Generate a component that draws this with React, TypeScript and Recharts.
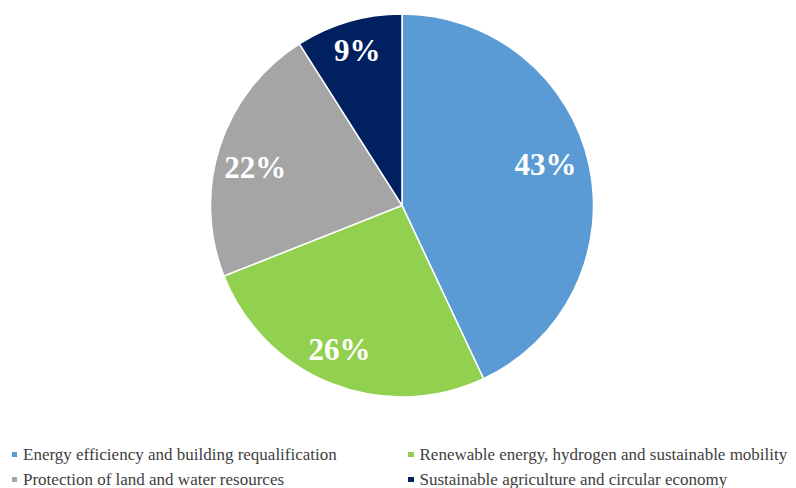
import React from 'react';
import { PieChart, Pie, Cell, Legend } from 'recharts';

const categories = [
  'Energy efficiency and building requalification',
  'Renewable energy, hydrogen and sustainable mobility',
  'Protection of land and water resources',
  'Sustainable agriculture and circular economy',
];
const shares = [43, 26, 22, 9];
const colors = ['#5B9BD5', '#92D050', '#A5A5A5', '#002060'];

const data = categories.map((name, i) => ({ name, value: shares[i] }));

const SERIF = "'Times New Roman', 'Liberation Serif', 'DejaVu Serif', serif";

// small nudges so the percentages sit where the original puts them
const labelNudge = [
  [-6, -8],
  [-6, 2],
  [-1, 9],
  [-2, -8],
];

const LegendGrid = () => (
  <div
    style={{
      display: 'grid',
      gridTemplateColumns: '397px 399px',
      fontFamily: SERIF,
      fontSize: 17,
      color: '#404040',
    }}
  >
    {categories.map((name, i) => (
      <div key={name} style={{ display: 'flex', alignItems: 'center', paddingLeft: i % 2 === 0 ? 11.5 : 11, height: 25 }}>
        <span style={{ width: 5.5, height: 5.5, background: colors[i], marginRight: 6, flexShrink: 0 }} />
        <span style={{ whiteSpace: 'nowrap' }}>{name}</span>
      </div>
    ))}
  </div>
);

const RADIAN = Math.PI / 180;
const renderLabel = (props: any) => {
  const { cx, cy, midAngle, outerRadius, value, index } = props;
  const r = outerRadius * 0.8;
  const [nx, ny] = labelNudge[index] || [0, 0];
  const x = cx + r * Math.cos(-midAngle * RADIAN) + nx;
  const y = cy + r * Math.sin(-midAngle * RADIAN) + ny;
  return (
    <text
      x={x}
      y={y}
      fill="#ffffff"
      textAnchor="middle"
      dominantBaseline="central"
      style={{ fontFamily: SERIF }}
      fontWeight="bold"
      fontSize={31}
    >
      {value}%
    </text>
  );
};

const App: React.FC = () => {
  return (
    <div style={{ position: 'absolute', left: 0, top: 0, width: 796, height: 488, background: '#fff' }}>
      <PieChart width={796} height={488} margin={{ top: 0, right: 0, bottom: 0, left: 0 }}>
        <Pie
          data={data}
          dataKey="value"
          nameKey="name"
          cx={402}
          cy={205.5}
          outerRadius={191.5}
          startAngle={90}
          endAngle={-270}
          stroke="#ffffff"
          strokeWidth={1.5}
          label={renderLabel}
          labelLine={false}
          isAnimationActive={false}
        >
          {data.map((d, i) => (
            <Cell key={d.name} fill={colors[i]} />
          ))}
        </Pie>
        <Legend
          content={<LegendGrid />}
          wrapperStyle={{ position: 'absolute', top: 442, left: 0, width: 796 }}
        />
      </PieChart>
    </div>
  );
};

export default App;
